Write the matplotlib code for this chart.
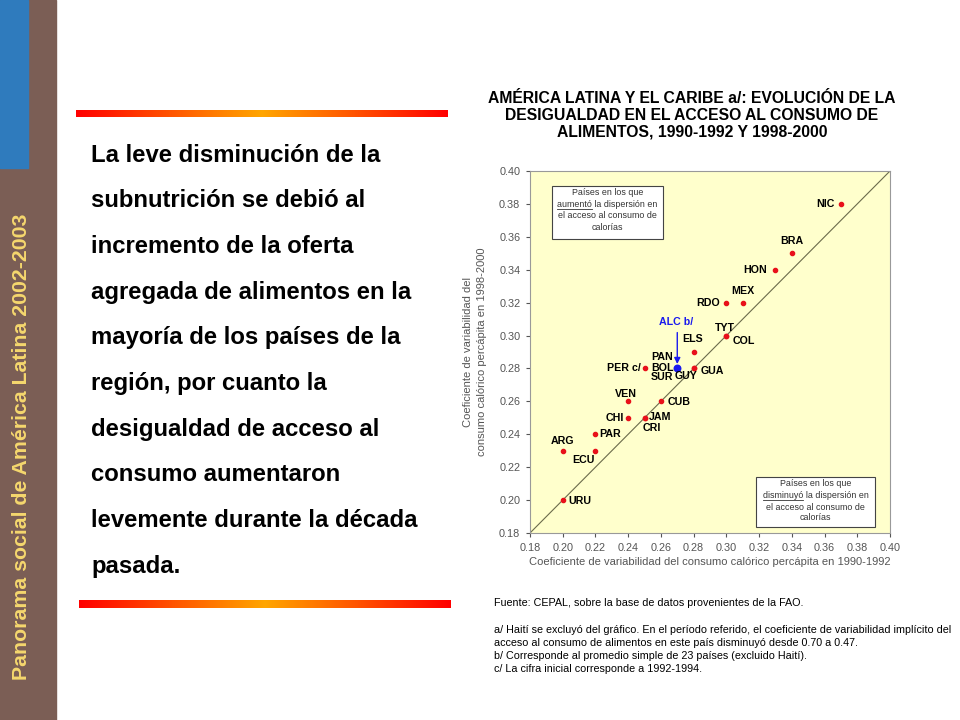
import numpy as np
import matplotlib
matplotlib.use("Agg")
import matplotlib.pyplot as plt
from matplotlib.patches import Rectangle

plt.rcParams['font.family'] = ['Liberation Sans', 'DejaVu Sans']

# 1990-1992 (x) vs 1998-2000 (y)
countries = ["NIC", "BRA", "HON", "MEX", "RDO", "TYT", "COL", "ELS", "GUA", "GUY",
             "PAN", "BOL", "SUR", "PER c/", "VEN", "CUB", "CHI", "JAM", "CRI",
             "PAR", "ARG", "ECU", "URU"]
cv_1990 = [0.37, 0.34, 0.33, 0.31, 0.30, 0.30, 0.30, 0.28, 0.28, 0.28,
           0.27, 0.27, 0.27, 0.25, 0.24, 0.26, 0.24, 0.25, 0.25,
           0.22, 0.20, 0.22, 0.20]
cv_1998 = [0.38, 0.35, 0.34, 0.32, 0.32, 0.30, 0.30, 0.29, 0.28, 0.28,
           0.28, 0.28, 0.28, 0.28, 0.26, 0.26, 0.25, 0.25, 0.25,
           0.24, 0.23, 0.23, 0.20]
alc_x, alc_y = 0.27, 0.28
ticks = [0.18, 0.20, 0.22, 0.24, 0.26, 0.28, 0.30, 0.32, 0.34, 0.36, 0.38, 0.40]

# label offsets in pixels (dx, dy, ha, va)
label_pos = {
    "NIC": (-6, 0, "right", "center"),
    "BRA": (0, 7, "center", "bottom"),
    "HON": (-8, 0, "right", "center"),
    "MEX": (0, 7, "center", "bottom"),
    "RDO": (-6, 0, "right", "center"),
    "TYT": (-1, 3, "center", "bottom"),
    "COL": (6, -5, "left", "center"),
    "ELS": (-1, 8, "center", "bottom"),
    "GUA": (7, -3, "left", "center"),
    "GUY": (-8, -8, "center", "center"),
    "PAN": (-15, 11, "center", "center"),
    "BOL": (-15, 0, "center", "center"),
    "SUR": (-15, -9, "center", "center"),
    "PER c/": (-4, 0, "right", "center"),
    "VEN": (-2, 7, "center", "center"),
    "CUB": (7, -1, "left", "center"),
    "CHI": (-4, 0, "right", "center"),
    "JAM": (4, 1, "left", "center"),
    "CRI": (7, -10, "center", "center"),
    "PAR": (4, 0, "left", "center"),
    "ARG": (0, 10, "center", "center"),
    "ECU": (-12, -9, "center", "center"),
    "URU": (6, -1, "left", "center"),
}

fig = plt.figure(figsize=(9.6, 7.2), dpi=100)

# decorative layer in pixel coordinates
bg = fig.add_axes([0, 0, 1, 1])
bg.set_xlim(0, 960)
bg.set_ylim(720, 0)
bg.axis("off")
bg.add_patch(Rectangle((0, 0), 56, 720, color="#7b5e55", zorder=1))
bg.add_patch(Rectangle((0, 0), 28, 168, color="#2f7bbd", zorder=2))
bg.text(22, 447, "Panorama social de América Latina 2002-2003", rotation=90,
        color="#f5d76e", fontsize=15.3, fontweight="bold", ha="center", va="center")

grad = np.abs(np.linspace(-1, 1, 256))
grad = np.vstack([grad, grad])
cmap = matplotlib.colors.LinearSegmentedColormap.from_list("rg", ["#ffa500", "#ff0000"])
bg.imshow(grad, extent=(76, 448, 117, 110), cmap=cmap, aspect="auto", zorder=2)
bg.imshow(grad, extent=(79, 451, 608, 600), cmap=cmap, aspect="auto", zorder=2)

body = ("La leve disminución de la\nsubnutrición se debió al\nincremento de la oferta\n"
        "agregada de alimentos en la\nmayoría de los países de la\nregión, por cuanto la\n"
        "desigualdad de acceso al\nconsumo aumentaron\nlevemente durante la década\npasada.")
for i, line in enumerate(body.split("\n")):
    bg.text(91, 155 + i * 45.7, line, fontsize=17.2, fontweight="bold",
            ha="left", va="center", color="black")

bg.text(692, 115, "AMÉRICA LATINA Y EL CARIBE a/: EVOLUCIÓN DE LA\n"
        "DESIGUALDAD EN EL ACCESO AL CONSUMO DE\nALIMENTOS, 1990-1992 Y 1998-2000",
        fontsize=11.3, fontweight="bold", ha="center", va="center", linespacing=1.15)

notes = ["Fuente: CEPAL, sobre la base de datos provenientes de la FAO.", "",
         "a/ Haití se excluyó del gráfico. En el período referido, el coeficiente de variabilidad implícito del",
         "acceso al consumo de alimentos en este país disminuyó desde 0.70 a 0.47.",
         "b/ Corresponde al promedio simple de 23 países (excluido Haití).",
         "c/ La cifra inicial corresponde a 1992-1994."]
for i, line in enumerate(notes):
    bg.text(494, 603 + i * 13.3, line, fontsize=7.75, ha="left", va="center")

# scatter chart
ax = fig.add_axes([530 / 960, 1 - 533 / 720, 360 / 960, 362 / 720])
ax.set_facecolor("#ffffcc")
ax.set_xlim(0.18, 0.40)
ax.set_ylim(0.18, 0.40)
ax.plot([0.18, 0.40], [0.18, 0.40], color="#6b6b4b", lw=0.8, zorder=2)
ax.scatter(cv_1990, cv_1998, s=9, color="#e8101a", zorder=3)
ax.scatter([alc_x], [alc_y], s=22, color="#1a1aee", zorder=4)
for name, x, y in zip(countries, cv_1990, cv_1998):
    dx, dy, ha, va = label_pos[name]
    ax.annotate(name, (x, y), xytext=(dx, dy), textcoords="offset pixels",
                ha=ha, va=va, fontsize=7.7, fontweight="bold", zorder=5)
ax.annotate("", xy=(alc_x, alc_y + 0.001), xytext=(alc_x, 0.3035),
            arrowprops=dict(arrowstyle="-|>", color="#1a1aee", lw=1, mutation_scale=9))
ax.text(alc_x - 0.0005, 0.305, "ALC b/", color="#1a1aee", fontsize=7.7,
        fontweight="bold", ha="center", va="bottom")

ax.set_xticks(ticks)
ax.set_yticks(ticks)
ax.set_xticklabels([f"{t:.2f}" for t in ticks])
ax.set_yticklabels([f"{t:.2f}" for t in ticks])
ax.tick_params(labelsize=7.8, colors="#555555", length=3, width=0.8, pad=4)
for s in ax.spines.values():
    s.set_color("#999999")
ax.set_xlabel("Coeficiente de variabilidad del consumo calórico percápita en 1990-1992",
              fontsize=8, color="#555555", labelpad=3)
ax.set_ylabel("Coeficiente de variabilidad del\nconsumo calórico percápita en 1998-2000",
              fontsize=8, color="#555555", labelpad=9, linespacing=1.5)

# overlay for the two note boxes (pixel coordinates)
ov = fig.add_axes([0, 0, 1, 1], facecolor="none")
ov.set_xlim(0, 960)
ov.set_ylim(720, 0)
ov.axis("off")
renderer = fig.canvas.get_renderer()


def note_box(x0, y0, x1, y1, word, line_ys):
    ov.add_patch(Rectangle((x0, y0), x1 - x0, y1 - y0, fc="white", ec="#444444", lw=0.8))
    cx = (x0 + x1) / 2
    lines = ["Países en los que", word + " la dispersión en",
             "el acceso al consumo de", "calorías"]
    for i, (txt, ly) in enumerate(zip(lines, line_ys)):
        t = ov.text(cx, ly, txt, fontsize=6.4, ha="center", va="center", color="#333333")
        if i == 1:
            full = t.get_window_extent(renderer)
            w = ov.text(0, 0, word, fontsize=6.4, alpha=0).get_window_extent(renderer)
            left = cx - full.width / 2
            ov.plot([left, left + w.width], [ly + 4.5, ly + 4.5], color="#333333", lw=0.6)


note_box(552, 186, 663, 239, "aumentó", [192.5, 204.5, 216, 228])
note_box(756, 477, 875, 527, "disminuyó", [483, 495, 507, 518])

fig.savefig("out.png", dpi=100)
